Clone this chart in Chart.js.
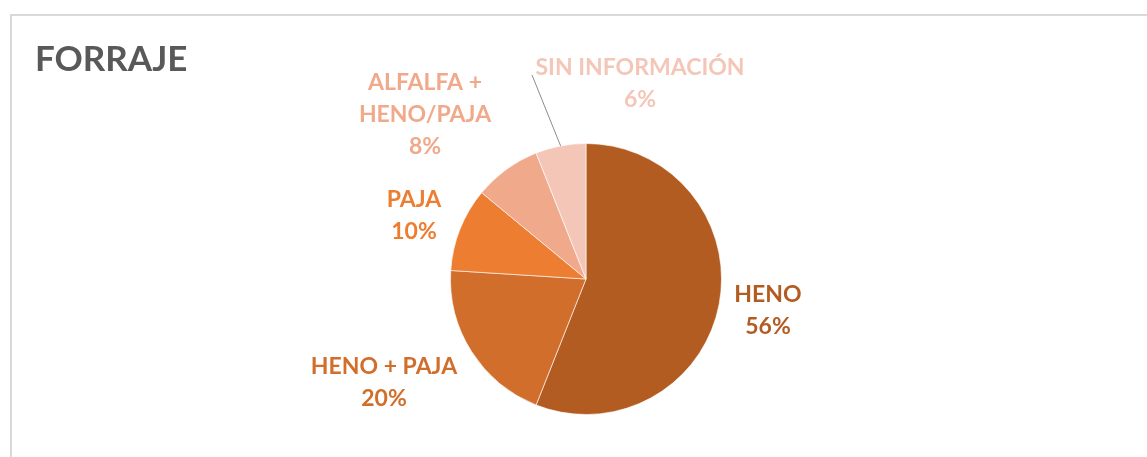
<!DOCTYPE html>
<html>
<head>
<meta charset="utf-8">
<script src="https://cdn.jsdelivr.net/npm/chart.js@4"></script>
<style>
  html, body { margin: 0; padding: 0; background: #fff; }
  #marco { position: absolute; left: 10px; top: 14px; width: 1200px; height: 500px;
           border-left: 2px solid #D9D9D9; border-top: 2px solid #D9D9D9; }
  #caja { position: absolute; left: 0; top: 0; width: 1147px; height: 457px; }
</style>
</head>
<body>
<div id="marco"></div>
<div id="caja"><canvas id="grafico-forraje"></canvas></div>
<script>
// Datos del gráfico
const categorias = ['HENO', 'HENO + PAJA', 'PAJA', 'ALFALFA + HENO/PAJA', 'SIN INFORMACIÓN'];
const porcentajes = [56, 20, 10, 8, 6];
// Texto de cada etiqueta (lineas)
const etiquetas = [
  ['HENO', '56%'],
  ['HENO + PAJA', '20%'],
  ['PAJA', '10%'],
  ['ALFALFA +', 'HENO/PAJA', '8%'],
  ['SIN INFORMACIÓN', '6%'],
];

const colores = ['#B35C22', '#D26E2C', '#ED7D31', '#F0A98B', '#F4C6B8'];
// Desplazamiento del centro de cada etiqueta respecto al centro del pastel
const desplazamientos = [[182, 32], [-202, 104], [-172, -63], [-161, -164], [54, -195]];

// Dibuja las etiquetas fuera del pastel, como en Excel.
const etiquetasExternas = {
  id: 'etiquetasExternas',
  afterDatasetsDraw(chart) {
    const ctx = chart.ctx;
    const arcos = chart.getDatasetMeta(0).data;
    ctx.save();
    ctx.font = 'bold 23px Lato';
    ctx.textAlign = 'center';
    ctx.textBaseline = 'middle';
    arcos.forEach((arco, i) => {
      const [dx, dy] = desplazamientos[i];
      const cx = arco.x + dx;
      const cy = arco.y + dy;
      const lineas = etiquetas[i];
      const alto = 32;
      const y0 = cy - (lineas.length - 1) * alto / 2;

      // Linea guia solo para la ultima porcion
      if (i === 4) {
        const medio = (arco.startAngle + arco.endAngle) / 2;
        ctx.beginPath();
        ctx.strokeStyle = '#8C8C8C';
        ctx.lineWidth = 1;
        ctx.moveTo(arco.x + Math.cos(medio) * arco.outerRadius, arco.y + Math.sin(medio) * arco.outerRadius);
        ctx.lineTo(cx - 108, y0 + 7);
        ctx.stroke();
      }

      ctx.fillStyle = colores[i];
      lineas.forEach((t, k) => ctx.fillText(t, cx, y0 + k * alto));
    });
    ctx.restore();
  },
};

new Chart(document.getElementById('grafico-forraje'), {
  type: 'pie',
  data: {
    labels: categorias,
    datasets: [{
      data: porcentajes,
      backgroundColor: colores,
      borderColor: 'rgba(255,255,255,0.6)',
      borderWidth: 1,
    }],
  },
  options: {
    responsive: true,
    maintainAspectRatio: false,
    animation: false,
    layout: { padding: { left: 35, right: 10, top: 0, bottom: 42 } },
    plugins: {
      legend: { display: false },
      tooltip: { enabled: false },
      title: {
        display: true,
        text: 'FORRAJE',
        align: 'start',
        color: '#595959',
        font: { family: 'Lato', size: 35, weight: 'bold', lineHeight: 1.2 },
        padding: { top: 39, bottom: 62 },
      },
    },
  },
  plugins: [etiquetasExternas],
});
</script>
</body>
</html>
